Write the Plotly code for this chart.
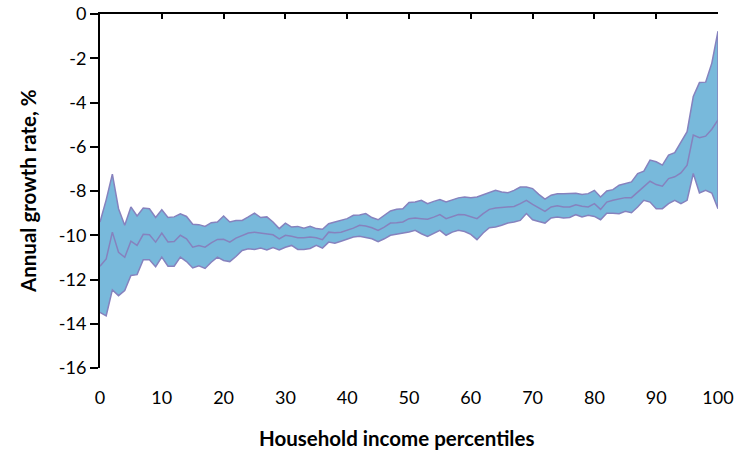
import plotly.graph_objects as go

# percentiles 0..100 and the three series
percentiles = list(range(101))

upper = [
    -9.4, -8.4, -7.24, -8.8, -9.55, -8.72, -9.13, -8.77, -8.8, -9.2,
    -8.85, -9.2, -9.17, -9.03, -9.15, -9.5, -9.52, -9.6, -9.43, -9.4,
    -9.13, -9.4, -9.33, -9.33, -9.17, -9.0, -9.2, -9.17, -9.4, -9.7,
    -9.45, -9.63, -9.6, -9.68, -9.6, -9.7, -9.73, -9.48, -9.4, -9.33,
    -9.25, -9.1, -9.08, -9.02, -9.2, -9.3, -9.1, -8.9, -8.83, -8.8,
    -8.52, -8.5, -8.42, -8.57, -8.47, -8.39, -8.5, -8.42, -8.31, -8.27,
    -8.31, -8.27, -8.16, -8.07, -7.97, -8.04, -8.08, -7.97, -7.82, -7.82,
    -7.89, -8.15, -8.37, -8.19, -8.12, -8.12, -8.12, -8.1, -8.16, -8.12,
    -7.97, -8.27, -8.0, -7.94, -7.74, -7.66, -7.59, -7.21, -7.1, -6.6,
    -6.68, -6.83, -6.38, -6.27, -5.77, -5.32, -3.73, -3.1, -3.08, -2.22,
    -0.78,
]

middle = [
    -11.4, -11.07, -9.86, -10.77, -11.0, -10.27, -10.46, -9.96, -9.98, -10.31,
    -9.9, -10.3, -10.28, -10.0, -10.16, -10.54, -10.46, -10.54, -10.34, -10.19,
    -10.18, -10.31, -10.13, -10.0, -9.9, -9.86, -9.89, -9.93, -9.98, -10.16,
    -10.0, -10.05, -10.11, -10.11, -10.08, -10.11, -10.2, -9.86, -9.89, -9.86,
    -9.78, -9.68, -9.55, -9.58, -9.66, -9.78, -9.63, -9.45, -9.43, -9.4,
    -9.25, -9.22, -9.25, -9.28, -9.18, -9.07, -9.25, -9.15, -9.06, -9.07,
    -9.15, -9.25, -9.02, -8.83, -8.77, -8.75, -8.72, -8.7, -8.57, -8.42,
    -8.6, -8.75, -8.92, -8.72, -8.67, -8.72, -8.72, -8.62, -8.69, -8.72,
    -8.57, -8.83, -8.5, -8.42, -8.37, -8.3, -8.3, -8.04, -7.78, -7.56,
    -7.71, -7.78, -7.44, -7.36, -7.18, -6.83, -5.47, -5.59, -5.52, -5.21,
    -4.79,
]

lower = [
    -13.49, -13.64, -12.47, -12.73, -12.5, -11.82, -11.78, -11.11, -11.11, -11.42,
    -10.99, -11.4, -11.4, -10.99, -11.19, -11.48, -11.38, -11.5, -11.22, -10.99,
    -11.14, -11.19, -10.96, -10.69, -10.61, -10.64, -10.58, -10.66, -10.56, -10.66,
    -10.54, -10.46, -10.64, -10.64, -10.6, -10.46, -10.58, -10.31, -10.36, -10.27,
    -10.16, -10.08, -10.05, -10.11, -10.16, -10.29, -10.16, -10.0, -9.93, -9.9,
    -9.85, -9.78, -9.93, -10.05, -9.9, -9.78, -10.0, -9.86, -9.78, -9.83,
    -9.96, -10.2, -9.9, -9.66, -9.63, -9.55, -9.45, -9.4, -9.33, -9.02,
    -9.3, -9.38, -9.45, -9.22, -9.18, -9.22, -9.2, -9.07, -9.17, -9.1,
    -9.15, -9.3, -9.0, -9.0, -9.03, -8.92, -8.98, -8.72, -8.42, -8.5,
    -8.8, -8.8, -8.57, -8.42, -8.57, -8.42, -7.21, -8.09, -7.97, -8.09,
    -8.8,
]

x_ticks = list(range(0, 101, 10))
y_ticks = list(range(-16, 1, 2))
y_tick_text = [str(v) for v in y_ticks]  # plain hyphen, not the unicode minus

FILL = '#78B9DB'
LINE = '#8682BE'
FONT = 'Lato, "Open Sans", sans-serif'

fig = go.Figure()

# band: upper going right, lower coming back
fig.add_trace(go.Scatter(
    x=percentiles + percentiles[::-1],
    y=upper + lower[::-1],
    fill='toself',
    fillcolor=FILL,
    line=dict(color=LINE, width=1.5),
    mode='lines',
    hoverinfo='skip',
    showlegend=False,
))

fig.add_trace(go.Scatter(
    x=percentiles,
    y=middle,
    mode='lines',
    line=dict(color=LINE, width=1.5),
    showlegend=False,
))

# invisible trace to bring the top axis to life
fig.add_trace(go.Scatter(x=[0, 100], y=[0, 0], xaxis='x2', mode='none',
                         showlegend=False, hoverinfo='skip'))

fig.update_layout(
    width=734,
    height=450,
    margin=dict(l=100, r=16, t=14, b=82, autoexpand=False),
    paper_bgcolor='white',
    plot_bgcolor='white',
    font=dict(family=FONT, size=18, color='black'),
    xaxis=dict(
        range=[0, 100],
        tickvals=x_ticks,
        showline=False,
        showgrid=False,
        zeroline=False,
        ticks='',
        ticklabelstandoff=17,
        ticklabeloverflow='allow',
        automargin=False,
        tickfont=dict(size=18),
    ),
    xaxis2=dict(
        range=[0, 100],
        overlaying='x',
        side='top',
        anchor='y',
        tickvals=x_ticks,
        showline=True,
        linecolor='black',
        linewidth=2,
        ticks='inside',
        ticklen=5,
        tickwidth=2,
        tickcolor='black',
        showticklabels=False,
        showgrid=False,
        zeroline=False,
        automargin=False,
    ),
    yaxis=dict(
        range=[-16, 0],
        tickvals=y_ticks,
        ticktext=y_tick_text,
        showline=True,
        linecolor='black',
        linewidth=2,
        ticks='outside',
        ticklen=8,
        tickwidth=2,
        tickcolor='black',
        showgrid=False,
        zeroline=False,
        ticklabeloverflow='allow',
        automargin=False,
        tickfont=dict(size=18),
    ),
    annotations=[
        dict(text='<b>Household income percentiles</b>', xref='paper', yref='paper',
             x=0.48, y=-0.197, xanchor='center', yanchor='middle',
             showarrow=False, font=dict(size=20.5)),
        dict(text='<b>Annual growth rate, %</b>', xref='paper', yref='paper',
             x=-0.1165, y=0.5, xanchor='center', yanchor='middle', textangle=-90,
             showarrow=False, font=dict(size=20.5)),
    ],
)

# drop the default 8px body margin so the figure sits at the window's corner
fig.write_html("out.html", config={'displayModeBar': False},
               post_script="document.body.style.margin = '0';")
